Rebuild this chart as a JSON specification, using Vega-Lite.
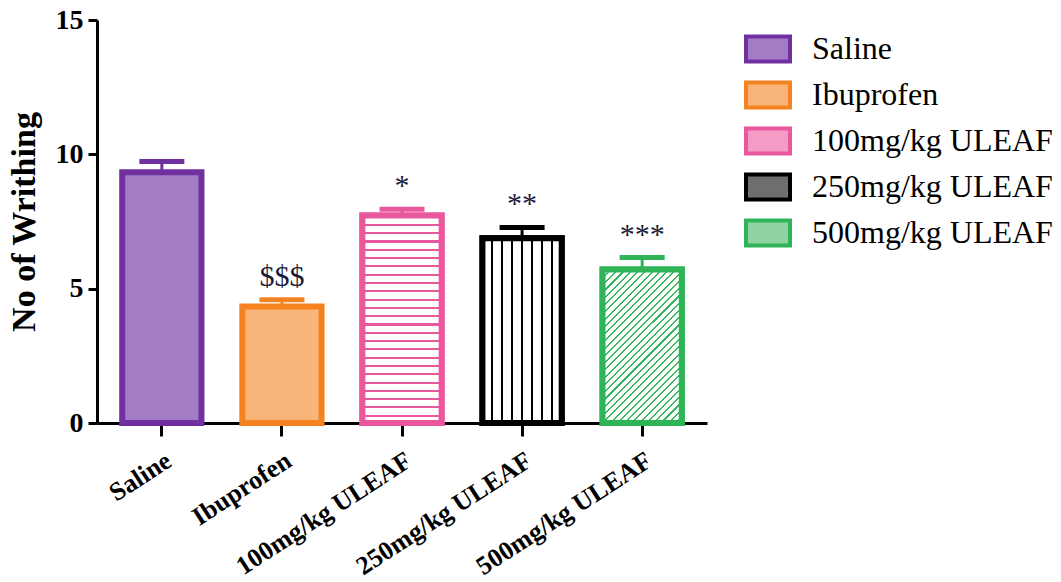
{
  "$schema": "https://vega.github.io/schema/vega-lite/v6.json",
  "width": 610,
  "height": 403,
  "autosize": "none",
  "padding": {"left": 97, "top": 20, "right": 354, "bottom": 159},
  "background": "white",
  "config": {
    "view": {"stroke": null},
    "axis": {
      "grid": false,
      "domainColor": "black",
      "domainWidth": 3,
      "tickColor": "black",
      "tickWidth": 3,
      "labelFont": "Liberation Serif",
      "labelFontWeight": "bold",
      "labelFontSize": 28,
      "labelColor": "black",
      "labelLimit": 0,
      "titleFont": "Liberation Serif",
      "titleFontWeight": "bold",
      "titleColor": "black"
    },
    "legend": {
      "labelFont": "Liberation Serif",
      "labelFontSize": 32,
      "labelColor": "black",
      "labelLimit": 0,
      "labelOffset": 20,
      "rowPadding": 1,
      "padding": 0,
      "offset": 0,
      "symbolStrokeWidth": 4
    },
    "text": {"font": "Liberation Serif"}
  },
  "data": {
    "values": [
      {"group": "Saline", "mean": 9.33, "err_hi": 9.73, "sig": ""},
      {"group": "Ibuprofen", "mean": 4.34, "err_hi": 4.59, "sig": "$$$"},
      {"group": "100mg/kg ULEAF", "mean": 7.72, "err_hi": 7.96, "sig": "*"},
      {"group": "250mg/kg ULEAF", "mean": 6.88, "err_hi": 7.28, "sig": "**"},
      {"group": "500mg/kg ULEAF", "mean": 5.71, "err_hi": 6.16, "sig": "***"}
    ]
  },
  "encoding": {
    "x": {
      "field": "group",
      "type": "nominal",
      "sort": ["Saline", "Ibuprofen", "100mg/kg ULEAF", "250mg/kg ULEAF", "500mg/kg ULEAF"],
      "scale": {"paddingInner": 0.34, "paddingOuter": 0.21},
      "axis": {"title": null, "labelAngle": -33, "labelAlign": "right", "labelBaseline": "top", "labelFontSize": 26, "tickSize": 13, "labelPadding": 11}
    }
  },
  "layer": [
    {
      "mark": {"type": "bar", "strokeWidth": 6, "strokeJoin": "miter"},
      "encoding": {
        "y": {
          "field": "mean",
          "type": "quantitative",
          "title": "No of Writhing",
          "scale": {"domain": [0, 15], "nice": false},
          "axis": {"values": [0, 5, 10, 15], "tickSize": 9, "labelPadding": 5, "titleFontSize": 34, "titlePadding": 14}
        },
        "fill": {
          "field": "group",
          "type": "nominal",
          "sort": ["Saline", "Ibuprofen", "100mg/kg ULEAF", "250mg/kg ULEAF", "500mg/kg ULEAF"],
          "scale": {
            "domain": ["Saline", "Ibuprofen", "100mg/kg ULEAF", "250mg/kg ULEAF", "500mg/kg ULEAF"],
            "range": ["#a27cc4", "#f9b47a", "#f29cc6", "#6e6e6e", "#8fd3a2"]
          },
          "legend": {
            "title": null,
            "orient": "none",
            "legendX": 647,
            "legendY": 5,
            "symbolType": "M-1,-0.57H1V0.57H-1Z",
            "symbolSize": 1936,
            "symbolStrokeWidth": 4,
            "labelFont": "Liberation Serif",
            "labelFontSize": 32,
            "labelColor": "black",
            "labelLimit": 0,
            "labelOffset": 20,
            "rowPadding": 1,
            "padding": 0,
            "offset": 0
          }
        },
        "stroke": {
          "field": "group",
          "type": "nominal",
          "sort": ["Saline", "Ibuprofen", "100mg/kg ULEAF", "250mg/kg ULEAF", "500mg/kg ULEAF"],
          "scale": {
            "domain": ["Saline", "Ibuprofen", "100mg/kg ULEAF", "250mg/kg ULEAF", "500mg/kg ULEAF"],
            "range": ["#7030a0", "#f58220", "#e9579d", "#000000", "#2fb457"]
          },
          "legend": {
            "title": null,
            "orient": "none",
            "legendX": 647,
            "legendY": 5,
            "symbolType": "M-1,-0.57H1V0.57H-1Z",
            "symbolSize": 1936,
            "symbolStrokeWidth": 4,
            "labelFont": "Liberation Serif",
            "labelFontSize": 32,
            "labelColor": "black",
            "labelLimit": 0,
            "labelOffset": 20,
            "rowPadding": 1,
            "padding": 0,
            "offset": 0
          }
        }
      }
    },
    {
      "transform": [{"filter": "datum.group === '100mg/kg ULEAF'"}],
      "mark": {
        "type": "bar",
        "stroke": "#e9579d",
        "strokeWidth": 6,
        "strokeJoin": "miter",
        "fill": {
          "gradient": "linear",
          "x1": 0, "y1": 0, "x2": 0, "y2": 1,
          "stops": [
            {"offset": 0, "color": "#e9579d"}, {"offset": 0.01, "color": "#e9579d"}, {"offset": 0.01, "color": "#ffffff"}, {"offset": 0.04, "color": "#ffffff"},
            {"offset": 0.04, "color": "#e9579d"}, {"offset": 0.05, "color": "#e9579d"}, {"offset": 0.05, "color": "#ffffff"}, {"offset": 0.08, "color": "#ffffff"},
            {"offset": 0.08, "color": "#e9579d"}, {"offset": 0.09, "color": "#e9579d"}, {"offset": 0.09, "color": "#ffffff"}, {"offset": 0.12, "color": "#ffffff"},
            {"offset": 0.12, "color": "#e9579d"}, {"offset": 0.13, "color": "#e9579d"}, {"offset": 0.13, "color": "#ffffff"}, {"offset": 0.16, "color": "#ffffff"},
            {"offset": 0.16, "color": "#e9579d"}, {"offset": 0.17, "color": "#e9579d"}, {"offset": 0.17, "color": "#ffffff"}, {"offset": 0.2, "color": "#ffffff"},
            {"offset": 0.2, "color": "#e9579d"}, {"offset": 0.21, "color": "#e9579d"}, {"offset": 0.21, "color": "#ffffff"}, {"offset": 0.24, "color": "#ffffff"},
            {"offset": 0.24, "color": "#e9579d"}, {"offset": 0.25, "color": "#e9579d"}, {"offset": 0.25, "color": "#ffffff"}, {"offset": 0.28, "color": "#ffffff"},
            {"offset": 0.28, "color": "#e9579d"}, {"offset": 0.29, "color": "#e9579d"}, {"offset": 0.29, "color": "#ffffff"}, {"offset": 0.32, "color": "#ffffff"},
            {"offset": 0.32, "color": "#e9579d"}, {"offset": 0.33, "color": "#e9579d"}, {"offset": 0.33, "color": "#ffffff"}, {"offset": 0.36, "color": "#ffffff"},
            {"offset": 0.36, "color": "#e9579d"}, {"offset": 0.37, "color": "#e9579d"}, {"offset": 0.37, "color": "#ffffff"}, {"offset": 0.4, "color": "#ffffff"},
            {"offset": 0.4, "color": "#e9579d"}, {"offset": 0.41, "color": "#e9579d"}, {"offset": 0.41, "color": "#ffffff"}, {"offset": 0.44, "color": "#ffffff"},
            {"offset": 0.44, "color": "#e9579d"}, {"offset": 0.45, "color": "#e9579d"}, {"offset": 0.45, "color": "#ffffff"}, {"offset": 0.48, "color": "#ffffff"},
            {"offset": 0.48, "color": "#e9579d"}, {"offset": 0.49, "color": "#e9579d"}, {"offset": 0.49, "color": "#ffffff"}, {"offset": 0.52, "color": "#ffffff"},
            {"offset": 0.52, "color": "#e9579d"}, {"offset": 0.53, "color": "#e9579d"}, {"offset": 0.53, "color": "#ffffff"}, {"offset": 0.56, "color": "#ffffff"},
            {"offset": 0.56, "color": "#e9579d"}, {"offset": 0.57, "color": "#e9579d"}, {"offset": 0.57, "color": "#ffffff"}, {"offset": 0.6, "color": "#ffffff"},
            {"offset": 0.6, "color": "#e9579d"}, {"offset": 0.61, "color": "#e9579d"}, {"offset": 0.61, "color": "#ffffff"}, {"offset": 0.64, "color": "#ffffff"},
            {"offset": 0.64, "color": "#e9579d"}, {"offset": 0.65, "color": "#e9579d"}, {"offset": 0.65, "color": "#ffffff"}, {"offset": 0.68, "color": "#ffffff"},
            {"offset": 0.68, "color": "#e9579d"}, {"offset": 0.69, "color": "#e9579d"}, {"offset": 0.69, "color": "#ffffff"}, {"offset": 0.72, "color": "#ffffff"},
            {"offset": 0.72, "color": "#e9579d"}, {"offset": 0.73, "color": "#e9579d"}, {"offset": 0.73, "color": "#ffffff"}, {"offset": 0.76, "color": "#ffffff"},
            {"offset": 0.76, "color": "#e9579d"}, {"offset": 0.77, "color": "#e9579d"}, {"offset": 0.77, "color": "#ffffff"}, {"offset": 0.8, "color": "#ffffff"},
            {"offset": 0.8, "color": "#e9579d"}, {"offset": 0.81, "color": "#e9579d"}, {"offset": 0.81, "color": "#ffffff"}, {"offset": 0.84, "color": "#ffffff"},
            {"offset": 0.84, "color": "#e9579d"}, {"offset": 0.85, "color": "#e9579d"}, {"offset": 0.85, "color": "#ffffff"}, {"offset": 0.88, "color": "#ffffff"},
            {"offset": 0.88, "color": "#e9579d"}, {"offset": 0.89, "color": "#e9579d"}, {"offset": 0.89, "color": "#ffffff"}, {"offset": 0.92, "color": "#ffffff"},
            {"offset": 0.92, "color": "#e9579d"}, {"offset": 0.93, "color": "#e9579d"}, {"offset": 0.93, "color": "#ffffff"}, {"offset": 0.96, "color": "#ffffff"},
            {"offset": 0.96, "color": "#e9579d"}, {"offset": 0.97, "color": "#e9579d"}, {"offset": 0.97, "color": "#ffffff"}, {"offset": 1, "color": "#ffffff"}
          ]
        }
      },
      "encoding": {
        "y": {"field": "mean", "type": "quantitative", "title": "No of Writhing"}
      }
    },
    {
      "transform": [{"filter": "datum.group === '250mg/kg ULEAF'"}],
      "mark": {
        "type": "bar",
        "stroke": "#000000",
        "strokeWidth": 6,
        "strokeJoin": "miter",
        "fill": {
          "gradient": "linear",
          "x1": 0, "y1": 0, "x2": 1, "y2": 0,
          "stops": [
            {"offset": 0, "color": "#ffffff"},
            {"offset": 0.113, "color": "#ffffff"}, {"offset": 0.113, "color": "#000000"}, {"offset": 0.137, "color": "#000000"}, {"offset": 0.137, "color": "#ffffff"},
            {"offset": 0.238, "color": "#ffffff"}, {"offset": 0.238, "color": "#000000"}, {"offset": 0.262, "color": "#000000"}, {"offset": 0.262, "color": "#ffffff"},
            {"offset": 0.363, "color": "#ffffff"}, {"offset": 0.363, "color": "#000000"}, {"offset": 0.387, "color": "#000000"}, {"offset": 0.387, "color": "#ffffff"},
            {"offset": 0.488, "color": "#ffffff"}, {"offset": 0.488, "color": "#000000"}, {"offset": 0.512, "color": "#000000"}, {"offset": 0.512, "color": "#ffffff"},
            {"offset": 0.613, "color": "#ffffff"}, {"offset": 0.613, "color": "#000000"}, {"offset": 0.637, "color": "#000000"}, {"offset": 0.637, "color": "#ffffff"},
            {"offset": 0.738, "color": "#ffffff"}, {"offset": 0.738, "color": "#000000"}, {"offset": 0.762, "color": "#000000"}, {"offset": 0.762, "color": "#ffffff"},
            {"offset": 0.863, "color": "#ffffff"}, {"offset": 0.863, "color": "#000000"}, {"offset": 0.887, "color": "#000000"}, {"offset": 0.887, "color": "#ffffff"},
            {"offset": 1, "color": "#ffffff"}
          ]
        }
      },
      "encoding": {
        "y": {"field": "mean", "type": "quantitative", "title": "No of Writhing"}
      }
    },
    {
      "transform": [{"filter": "datum.group === '500mg/kg ULEAF'"}],
      "mark": {
        "type": "bar",
        "stroke": "#2fb457",
        "strokeWidth": 6,
        "strokeJoin": "miter",
        "fill": {
          "gradient": "linear",
          "x1": 0, "y1": 0, "x2": 0.618, "y2": 1.197,
          "stops": [
            {"offset": 0, "color": "#3db862"}, {"offset": 0.009, "color": "#3db862"}, {"offset": 0.009, "color": "#ffffff"}, {"offset": 0.03125, "color": "#ffffff"},
            {"offset": 0.03125, "color": "#3db862"}, {"offset": 0.04025, "color": "#3db862"}, {"offset": 0.04025, "color": "#ffffff"}, {"offset": 0.0625, "color": "#ffffff"},
            {"offset": 0.0625, "color": "#3db862"}, {"offset": 0.0715, "color": "#3db862"}, {"offset": 0.0715, "color": "#ffffff"}, {"offset": 0.09375, "color": "#ffffff"},
            {"offset": 0.09375, "color": "#3db862"}, {"offset": 0.10275, "color": "#3db862"}, {"offset": 0.10275, "color": "#ffffff"}, {"offset": 0.125, "color": "#ffffff"},
            {"offset": 0.125, "color": "#3db862"}, {"offset": 0.134, "color": "#3db862"}, {"offset": 0.134, "color": "#ffffff"}, {"offset": 0.15625, "color": "#ffffff"},
            {"offset": 0.15625, "color": "#3db862"}, {"offset": 0.16525, "color": "#3db862"}, {"offset": 0.16525, "color": "#ffffff"}, {"offset": 0.1875, "color": "#ffffff"},
            {"offset": 0.1875, "color": "#3db862"}, {"offset": 0.1965, "color": "#3db862"}, {"offset": 0.1965, "color": "#ffffff"}, {"offset": 0.21875, "color": "#ffffff"},
            {"offset": 0.21875, "color": "#3db862"}, {"offset": 0.22775, "color": "#3db862"}, {"offset": 0.22775, "color": "#ffffff"}, {"offset": 0.25, "color": "#ffffff"},
            {"offset": 0.25, "color": "#3db862"}, {"offset": 0.259, "color": "#3db862"}, {"offset": 0.259, "color": "#ffffff"}, {"offset": 0.28125, "color": "#ffffff"},
            {"offset": 0.28125, "color": "#3db862"}, {"offset": 0.29025, "color": "#3db862"}, {"offset": 0.29025, "color": "#ffffff"}, {"offset": 0.3125, "color": "#ffffff"},
            {"offset": 0.3125, "color": "#3db862"}, {"offset": 0.3215, "color": "#3db862"}, {"offset": 0.3215, "color": "#ffffff"}, {"offset": 0.34375, "color": "#ffffff"},
            {"offset": 0.34375, "color": "#3db862"}, {"offset": 0.35275, "color": "#3db862"}, {"offset": 0.35275, "color": "#ffffff"}, {"offset": 0.375, "color": "#ffffff"},
            {"offset": 0.375, "color": "#3db862"}, {"offset": 0.384, "color": "#3db862"}, {"offset": 0.384, "color": "#ffffff"}, {"offset": 0.40625, "color": "#ffffff"},
            {"offset": 0.40625, "color": "#3db862"}, {"offset": 0.41525, "color": "#3db862"}, {"offset": 0.41525, "color": "#ffffff"}, {"offset": 0.4375, "color": "#ffffff"},
            {"offset": 0.4375, "color": "#3db862"}, {"offset": 0.4465, "color": "#3db862"}, {"offset": 0.4465, "color": "#ffffff"}, {"offset": 0.46875, "color": "#ffffff"},
            {"offset": 0.46875, "color": "#3db862"}, {"offset": 0.47775, "color": "#3db862"}, {"offset": 0.47775, "color": "#ffffff"}, {"offset": 0.5, "color": "#ffffff"},
            {"offset": 0.5, "color": "#3db862"}, {"offset": 0.509, "color": "#3db862"}, {"offset": 0.509, "color": "#ffffff"}, {"offset": 0.53125, "color": "#ffffff"},
            {"offset": 0.53125, "color": "#3db862"}, {"offset": 0.54025, "color": "#3db862"}, {"offset": 0.54025, "color": "#ffffff"}, {"offset": 0.5625, "color": "#ffffff"},
            {"offset": 0.5625, "color": "#3db862"}, {"offset": 0.5715, "color": "#3db862"}, {"offset": 0.5715, "color": "#ffffff"}, {"offset": 0.59375, "color": "#ffffff"},
            {"offset": 0.59375, "color": "#3db862"}, {"offset": 0.60275, "color": "#3db862"}, {"offset": 0.60275, "color": "#ffffff"}, {"offset": 0.625, "color": "#ffffff"},
            {"offset": 0.625, "color": "#3db862"}, {"offset": 0.634, "color": "#3db862"}, {"offset": 0.634, "color": "#ffffff"}, {"offset": 0.65625, "color": "#ffffff"},
            {"offset": 0.65625, "color": "#3db862"}, {"offset": 0.66525, "color": "#3db862"}, {"offset": 0.66525, "color": "#ffffff"}, {"offset": 0.6875, "color": "#ffffff"},
            {"offset": 0.6875, "color": "#3db862"}, {"offset": 0.6965, "color": "#3db862"}, {"offset": 0.6965, "color": "#ffffff"}, {"offset": 0.71875, "color": "#ffffff"},
            {"offset": 0.71875, "color": "#3db862"}, {"offset": 0.72775, "color": "#3db862"}, {"offset": 0.72775, "color": "#ffffff"}, {"offset": 0.75, "color": "#ffffff"},
            {"offset": 0.75, "color": "#3db862"}, {"offset": 0.759, "color": "#3db862"}, {"offset": 0.759, "color": "#ffffff"}, {"offset": 0.78125, "color": "#ffffff"},
            {"offset": 0.78125, "color": "#3db862"}, {"offset": 0.79025, "color": "#3db862"}, {"offset": 0.79025, "color": "#ffffff"}, {"offset": 0.8125, "color": "#ffffff"},
            {"offset": 0.8125, "color": "#3db862"}, {"offset": 0.8215, "color": "#3db862"}, {"offset": 0.8215, "color": "#ffffff"}, {"offset": 0.84375, "color": "#ffffff"},
            {"offset": 0.84375, "color": "#3db862"}, {"offset": 0.85275, "color": "#3db862"}, {"offset": 0.85275, "color": "#ffffff"}, {"offset": 0.875, "color": "#ffffff"},
            {"offset": 0.875, "color": "#3db862"}, {"offset": 0.884, "color": "#3db862"}, {"offset": 0.884, "color": "#ffffff"}, {"offset": 0.90625, "color": "#ffffff"},
            {"offset": 0.90625, "color": "#3db862"}, {"offset": 0.91525, "color": "#3db862"}, {"offset": 0.91525, "color": "#ffffff"}, {"offset": 0.9375, "color": "#ffffff"},
            {"offset": 0.9375, "color": "#3db862"}, {"offset": 0.9465, "color": "#3db862"}, {"offset": 0.9465, "color": "#ffffff"}, {"offset": 0.96875, "color": "#ffffff"},
            {"offset": 0.96875, "color": "#3db862"}, {"offset": 0.97775, "color": "#3db862"}, {"offset": 0.97775, "color": "#ffffff"}, {"offset": 1, "color": "#ffffff"}
          ]
        }
      },
      "encoding": {
        "y": {"field": "mean", "type": "quantitative", "title": "No of Writhing"}
      }
    },
    {
      "mark": {"type": "rule", "strokeWidth": 3},
      "encoding": {
        "y": {"field": "mean", "type": "quantitative", "title": "No of Writhing"},
        "y2": {"field": "err_hi"},
        "color": {
          "field": "group",
          "type": "nominal",
          "scale": {
            "domain": ["Saline", "Ibuprofen", "100mg/kg ULEAF", "250mg/kg ULEAF", "500mg/kg ULEAF"],
            "range": ["#7030a0", "#f58220", "#e9579d", "#000000", "#2fb457"]
          },
          "legend": null
        }
      }
    },
    {
      "mark": {"type": "tick", "size": 45, "thickness": 5, "orient": "horizontal", "opacity": 1},
      "encoding": {
        "y": {"field": "err_hi", "type": "quantitative", "title": "No of Writhing"},
        "color": {
          "field": "group",
          "type": "nominal",
          "scale": {
            "domain": ["Saline", "Ibuprofen", "100mg/kg ULEAF", "250mg/kg ULEAF", "500mg/kg ULEAF"],
            "range": ["#7030a0", "#f58220", "#e9579d", "#000000", "#2fb457"]
          },
          "legend": null
        }
      }
    },
    {
      "mark": {"type": "text", "font": "Liberation Serif", "fontSize": 30, "color": "#1b1b3a", "baseline": "alphabetic", "dy": -14},
      "encoding": {
        "y": {"field": "err_hi", "type": "quantitative", "title": "No of Writhing"},
        "text": {"field": "sig", "type": "nominal"}
      }
    }
  ]
}
